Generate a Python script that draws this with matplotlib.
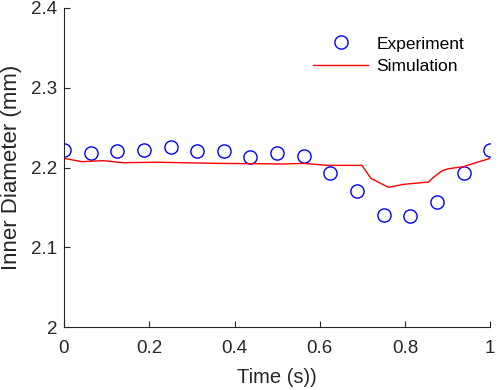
import matplotlib
matplotlib.use('Agg')
import matplotlib.pyplot as plt

plt.rcParams['font.family'] = ['Liberation Sans', 'DejaVu Sans']

# experiment points
exp_t = [0, 0.0625, 0.125, 0.1875, 0.25, 0.3125, 0.375, 0.4375, 0.5, 0.5625,
         0.625, 0.6875, 0.75, 0.8125, 0.875, 0.9375, 1.0]
exp_d = [2.222, 2.218, 2.221, 2.222, 2.226, 2.221, 2.221, 2.213, 2.218, 2.214,
         2.193, 2.170, 2.140, 2.139, 2.157, 2.193, 2.222]

# simulation curve
sim_t = [0, 0.042, 0.092, 0.139, 0.218, 0.358, 0.515, 0.562, 0.617, 0.699,
         0.72, 0.761, 0.797, 0.855, 0.867, 0.887, 0.902, 0.937, 0.969, 1.0]
sim_d = [2.2115, 2.2073, 2.2086, 2.206, 2.2066, 2.2052, 2.2044, 2.2052, 2.2027, 2.2027,
         2.1864, 2.1752, 2.1789, 2.1818, 2.1877, 2.196, 2.1985, 2.201, 2.2065, 2.2115]

fig = plt.figure(figsize=(4.98, 3.9), dpi=100)
ax = fig.add_axes([0.1285, 0.1615, 0.856, 0.818])

ax.plot(exp_t, exp_d, 'o', color='b', mfc='none', ms=9.5, mew=1.0, label='Experiment')
ax.plot(sim_t, sim_d, '-', color='r', lw=1.0, label='Simulation')

ax.set_xlim(0, 1)
ax.set_ylim(2, 2.4)
ax.set_xticks([0, 0.2, 0.4, 0.6, 0.8, 1])
ax.set_xticklabels(['0', '0.2', '0.4', '0.6', '0.8', '1'])
ax.set_yticks([2, 2.1, 2.2, 2.3, 2.4])
ax.set_yticklabels(['2', '2.1', '2.2', '2.3', '2.4'])

ax.spines['top'].set_visible(False)
ax.spines['right'].set_visible(False)
for s in ['left', 'bottom']:
    ax.spines[s].set_color('#262626')
    ax.spines[s].set_linewidth(0.8)
ax.tick_params(direction='in', length=4, width=0.8, colors='#262626',
               labelsize=13.5, labelcolor='#262626')
ax.tick_params(axis='x', pad=9)
ax.tick_params(axis='y', pad=5)

ax.set_xlabel('Time (s))', fontsize=14.5, color='#262626', labelpad=8)
ax.set_ylabel('Inner Diameter (mm)', fontsize=16, color='#262626', labelpad=6)

ax.legend(loc='upper right', bbox_to_anchor=(0.975, 0.96), frameon=False,
          fontsize=12.5, handlelength=3.2, handletextpad=0.45, labelspacing=0.45)

fig.savefig('out.png', dpi=100)
